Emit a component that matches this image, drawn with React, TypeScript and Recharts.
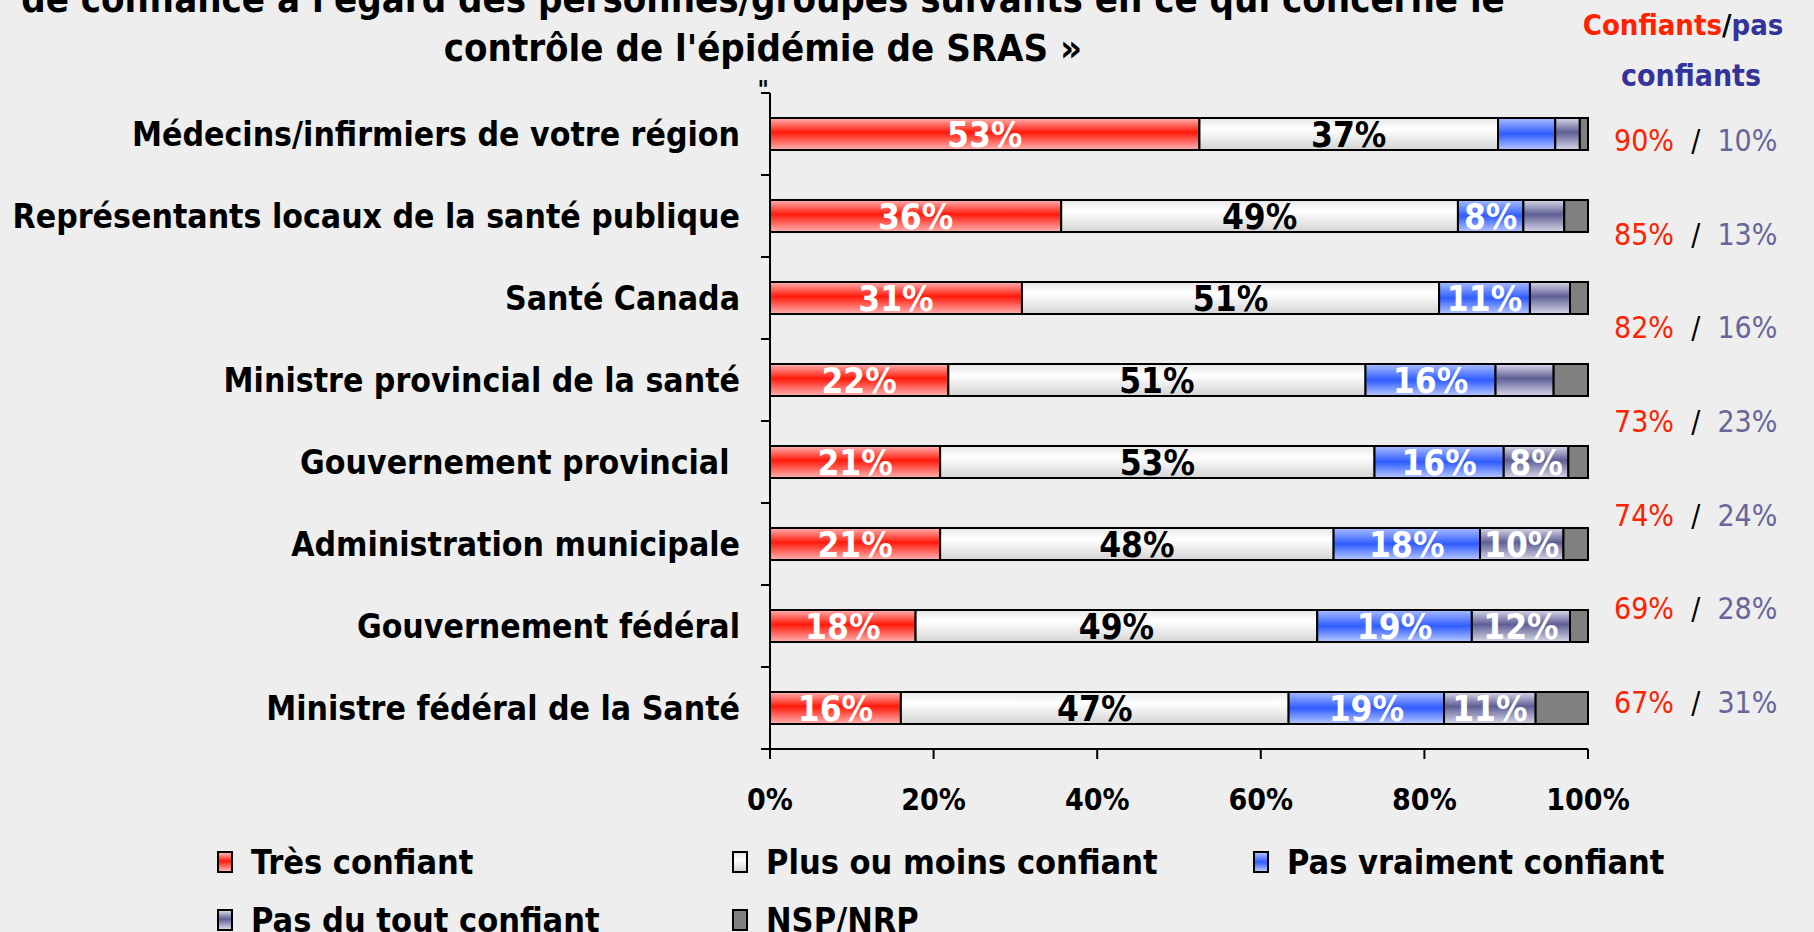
// Confidence in SARS control — stacked horizontal bars (100%)
import React from "react";
import { BarChart, Bar, XAxis, YAxis, LabelList, Legend } from "recharts";

const categories = [
  "Médecins/infirmiers de votre région",
  "Représentants locaux de la santé publique",
  "Santé Canada",
  "Ministre provincial de la santé",
  "Gouvernement provincial ",
  "Administration municipale",
  "Gouvernement fédéral",
  "Ministre fédéral de la Santé",
];

const tresConfiant = [52.5, 35.6, 30.8, 21.8, 20.8, 20.8, 17.8, 16.0];
const plusOuMoins = [36.5, 48.5, 51.0, 51.0, 53.1, 48.1, 49.1, 47.4];
const pasVraiment = [7.0, 8.0, 11.1, 15.9, 15.8, 17.9, 18.9, 19.0];
const pasDuTout = [3.0, 5.0, 4.9, 7.1, 7.9, 10.2, 12.0, 11.2];
const nspNrp = [1.0, 2.9, 2.2, 4.2, 2.4, 3.0, 2.2, 6.4];

// right-hand summary column (confiants / pas confiants)
const confiants = [90, 85, 82, 73, 74, 69, 67];
const pasConfiants = [10, 13, 16, 23, 24, 28, 31];

const xTicks = [0, 20, 40, 60, 80, 100];

const FONT = "'DejaVu Sans', Tahoma, sans-serif";
const STRETCH = "condensed";
const CAT_MARGIN = 30;

const series = [
  { key: "tres", name: "Très confiant", grad: "gRed", text: "#fff",
    swatch: "linear-gradient(#ffb3b3, #ff1a0a 45%, #ffb3b3)" },
  { key: "plus", name: "Plus ou moins confiant", grad: "gWhite", text: "#000",
    swatch: "linear-gradient(#e8e8e8, #fff 35%, #d4d4d4)" },
  { key: "vraiment", name: "Pas vraiment confiant", grad: "gBlue", text: "#fff",
    swatch: "linear-gradient(#aabdff, #2f5cff 50%, #b8c8ff)" },
  { key: "dutout", name: "Pas du tout confiant", grad: "gGray", text: "#fff",
    swatch: "linear-gradient(#d8d8e8, #5f5f96 45%, #d8d8e8)" },
  { key: "nsp", name: "NSP/NRP", grad: "gNsp", text: "#fff", swatch: "#808080" },
];

const data = categories.map((name, i) => ({
  name,
  tres: tresConfiant[i],
  plus: plusOuMoins[i],
  vraiment: pasVraiment[i],
  dutout: pasDuTout[i],
  nsp: nspNrp[i],
}));

const makeLabel = (color: string) => (props: any) => {
  const { x, y, width, height, value } = props;
  if (value < 7.5) return null;
  return (
    <text x={x + width / 2} y={y + height / 2 + 1} textAnchor="middle" dominantBaseline="central"
      fill={color} fontSize={35} fontWeight="bold" fontFamily={FONT} style={{ fontStretch: STRETCH }}>
      {Math.round(value)}%
    </text>
  );
};

// category label + small tick marks on the band boundaries (like the original)
const CatTick = (props: any) => {
  const { x, y, payload, index, visibleTicksCount, height } = props;
  const band = height && visibleTicksCount ? height / visibleTicksCount : 82;
  const ax = x + CAT_MARGIN;
  const last = index === (visibleTicksCount ?? categories.length) - 1;
  return (
    <g>
      <line x1={ax - 9} x2={ax} y1={y - band / 2} y2={y - band / 2} stroke="#000" strokeWidth={2} />
      {last && <line x1={ax - 9} x2={ax} y1={y + band / 2} y2={y + band / 2} stroke="#000" strokeWidth={2} />}
      <text x={x} y={y} textAnchor="end" dominantBaseline="central" fill="#000" fontSize={33.5}
        fontWeight="bold" fontFamily={FONT} style={{ fontStretch: STRETCH, whiteSpace: "pre" }}>
        {payload.value}
      </text>
    </g>
  );
};

const PctTick = (props: any) => {
  const { x, y, index } = props;
  return (
    <text x={x} y={y} textAnchor="start" dominantBaseline="central" fontSize={30} fontFamily={FONT}
      style={{ fontStretch: STRETCH, whiteSpace: "pre" }}>
      <tspan fill="#ff2200">{confiants[index]}%</tspan>
      <tspan fill="#000">{"  /  "}</tspan>
      <tspan fill="#66669a">{pasConfiants[index]}%</tspan>
    </text>
  );
};

const legendPos = [
  { left: 217, top: 40 },
  { left: 732, top: 40 },
  { left: 1253, top: 40 },
  { left: 217, top: 98 },
  { left: 732, top: 98 },
];

const LegendContent = () => (
  <div style={{ position: "relative", height: 110, width: 1814 }}>
    {series.map((s, i) => (
      <div key={s.key} style={{ position: "absolute", left: legendPos[i].left, top: legendPos[i].top,
        transform: "translateY(-50%)", display: "flex", alignItems: "center" }}>
        <span style={{ display: "inline-block", width: 12, height: 18, border: "2px solid #000",
          background: s.swatch, marginRight: 18 }} />
        <span style={{ fontFamily: FONT, fontStretch: STRETCH, fontWeight: "bold", fontSize: 34,
          lineHeight: "40px", color: "#000", whiteSpace: "pre" }}>{s.name}</span>
      </div>
    ))}
  </div>
);

export default function App() {
  return (
    <div style={{ position: "absolute", left: 0, top: 0, width: 1814, height: 932, background: "#eeeeee",
      overflow: "hidden" }}>
      <BarChart width={1814} height={932} data={data} layout="vertical" barSize={32}
        margin={{ top: 93, right: 0, bottom: 0, left: 0 }}>
        <defs>
          <linearGradient id="gRed" x1="0" y1="0" x2="0" y2="1">
            <stop offset="0" stopColor="#ffb3b3" />
            <stop offset="0.45" stopColor="#ff1a0a" />
            <stop offset="1" stopColor="#ffb3b3" />
          </linearGradient>
          <linearGradient id="gWhite" x1="0" y1="0" x2="0" y2="1">
            <stop offset="0" stopColor="#e6e6e6" />
            <stop offset="0.35" stopColor="#ffffff" />
            <stop offset="1" stopColor="#d4d4d4" />
          </linearGradient>
          <linearGradient id="gBlue" x1="0" y1="0" x2="0" y2="1">
            <stop offset="0" stopColor="#aabdff" />
            <stop offset="0.5" stopColor="#2f5cff" />
            <stop offset="1" stopColor="#b8c8ff" />
          </linearGradient>
          <linearGradient id="gGray" x1="0" y1="0" x2="0" y2="1">
            <stop offset="0" stopColor="#d8d8e8" />
            <stop offset="0.45" stopColor="#5f5f96" />
            <stop offset="1" stopColor="#d8d8e8" />
          </linearGradient>
          <linearGradient id="gNsp" x1="0" y1="0" x2="0" y2="1">
            <stop offset="0" stopColor="#808080" />
            <stop offset="1" stopColor="#808080" />
          </linearGradient>
        </defs>
        <XAxis type="number" domain={[0, 100]} ticks={xTicks} tickFormatter={(v) => `${v}%`}
          height={73} tickSize={10} tickMargin={30} interval={0}
          axisLine={{ stroke: "#000", strokeWidth: 2 }} tickLine={{ stroke: "#000", strokeWidth: 2 }}
          tick={{ fill: "#000", fontSize: 30, fontWeight: "bold", fontFamily: FONT, style: { fontStretch: STRETCH } }} />
        <YAxis yAxisId="cat" type="category" dataKey="name" width={770} tickLine={false}
          axisLine={{ stroke: "#000", strokeWidth: 2 }}
          tickSize={0} tickMargin={CAT_MARGIN} tick={<CatTick />} interval={0} />
        <YAxis yAxisId="pct" orientation="right" type="number" domain={[-0.07, 7.09]}
          ticks={[0.5, 1.5, 2.5, 3.5, 4.5, 5.5, 6.5]} width={226} axisLine={false} tickLine={false}
          tickSize={0} tickMargin={26} tick={<PctTick />} interval={0} />
        <Legend verticalAlign="bottom" height={110} content={<LegendContent />} />
        {series.map((s) => (
          <Bar key={s.key} yAxisId="cat" dataKey={s.key} name={s.name} stackId="a" fill={`url(#${s.grad})`}
            stroke="#000" strokeWidth={2} isAnimationActive={false}>
            {s.key !== "nsp" && <LabelList dataKey={s.key} content={makeLabel(s.text)} />}
          </Bar>
        ))}
      </BarChart>
      <svg width={1814} height={932} style={{ position: "absolute", left: 0, top: 0, pointerEvents: "none" }}>
        <g fontFamily={FONT} fontWeight="bold" style={{ fontStretch: STRETCH }}>
          <text x={763} y={12} textAnchor="middle" fontSize={38} fill="#000">
            de confiance à l'égard des personnes/groupes suivants en ce qui concerne le
          </text>
          <text x={763} y={61} textAnchor="middle" fontSize={38} fill="#000">
            contrôle de l'épidémie de SRAS »
          </text>
          <text x={763} y={98} textAnchor="middle" fontSize={24} fill="#000">"</text>
          <text x={1683} y={35} textAnchor="middle" fontSize={29}>
            <tspan fill="#ff2200">Confiants</tspan><tspan fill="#000">/</tspan><tspan fill="#333399">pas</tspan>
          </text>
          <text x={1691} y={86} textAnchor="middle" fontSize={30} fill="#333399">confiants</text>
        </g>
      </svg>
    </div>
  );
}
